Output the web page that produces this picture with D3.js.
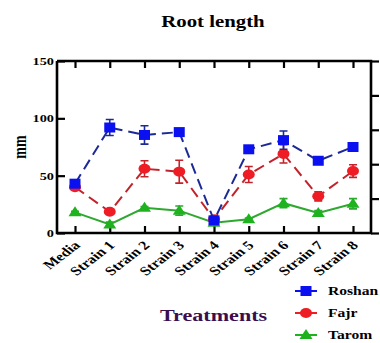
<!DOCTYPE html>
<html><head><meta charset="utf-8">
<script src="https://cdn.jsdelivr.net/npm/d3@7"></script>
<style>html,body{margin:0;padding:0;background:#fff;overflow:hidden}svg{display:block}</style>
</head><body><svg id="c" width="380" height="343"></svg>
<script>
const categories = ["Media","Strain 1","Strain 2","Strain 3","Strain 4","Strain 5","Strain 6","Strain 7","Strain 8"];
const roshan = [43, 92, 85.5, 88, 11, 73, 81, 63, 75];
const roshanErr = [2, 7, 8, 2, 2, 2, 8, 2, 2];
const fajr = [40, 18.5, 56, 53.5, 12, 51, 69, 32, 54];
const fajrErr = [2, 1.5, 7, 10, 2, 7, 8, 4, 5.5];
const tarom = [18, 7.5, 22, 19.5, 9, 12, 26, 17.5, 25.5];
const taromErr = [1, 2, 1, 4, 2, 1, 4, 2, 4.5];
const yTicks = [0, 50, 100, 150];
const seriesNames = ["Roshan", "Fajr", "Tarom"];

(function () {
const svg = d3.select("#c");
const SX = 1.3; // horizontal stretch of the reference
const ser = "'Liberation Serif','Times New Roman',serif";

const x = d3.scalePoint().domain(categories).range([75, 353]);
const y = d3.scaleLinear().domain([0, 150]).range([233, 61]);
const pL = 57, pR = 371, pT = 61, pB = 233;

function txt(g, s, tx, ty, size, opts = {}) {
  const t = g.append("text").text(s)
    .attr("transform", `translate(${tx},${ty}) scale(${SX},1)` + (opts.rot ? ` rotate(${opts.rot})` : ""))
    .attr("font-family", ser).attr("font-weight", "bold").attr("font-size", size)
    .attr("fill", opts.fill || "#000")
    .attr("text-anchor", opts.anchor || "start");
  return t;
}

// title
txt(svg, "Root length", 213, 27, 16, {anchor: "middle"});
// y label
svg.append("text").text("mm")
  .attr("transform", `translate(26,147) scale(${SX},1) rotate(-90)`)
  .attr("font-family", ser).attr("font-weight", "bold").attr("font-size", 14)
  .attr("text-anchor", "middle");

const ax = svg.append("g").attr("stroke", "#000").attr("fill", "none");
ax.append("path").attr("d", `M${pL},${pT}V${pB}H${pR}V${pT}H${pL}`)
  .attr("stroke-width", 2.6).attr("stroke-linejoin", "miter");

const yg = svg.append("g").attr("transform", `translate(${pL},0)`)
  .call(d3.axisLeft(y).tickValues(yTicks).tickSize(-8).tickFormat(""));
yg.select(".domain").remove();
yg.selectAll("line").attr("stroke-width", 2.2);
yTicks.forEach(v => txt(svg, String(v), 54, y(v) + 4, 11, {anchor: "end"}));

const yR = d3.scaleLinear().domain([0, 5]).range([pB, pT]);
const ygR = svg.append("g").attr("transform", `translate(${pR},0)`)
  .call(d3.axisRight(yR).ticks(5).tickSize(8).tickFormat(""));
ygR.select(".domain").remove();
ygR.selectAll("line").attr("stroke-width", 2.2);

const xg = svg.append("g").attr("transform", `translate(0,${pB})`)
  .call(d3.axisBottom(x).tickSize(-7).tickFormat(""));
xg.select(".domain").remove();
xg.selectAll("line").attr("stroke-width", 2.2);
const xgT = svg.append("g").attr("transform", `translate(0,${pT})`)
  .call(d3.axisTop(x).tickSize(-7).tickFormat(""));
xgT.select(".domain").remove();
xgT.selectAll("line").attr("stroke-width", 2.2);

categories.forEach(c => txt(svg, c, x(c) + 6, pB + 13, 12.5, {anchor: "end", rot: -45}));

const specs = [
  {name: "Tarom", vals: tarom, err: taromErr, line: "#2ea82e", fill: "#1fb21f", shape: "tri", dash: null},
  {name: "Fajr", vals: fajr, err: fajrErr, line: "#c4222a", fill: "#ee1c24", shape: "circ", dash: "11,6"},
  {name: "Roshan", vals: roshan, err: roshanErr, line: "#1c2a96", fill: "#0a10f0", shape: "sq", dash: "11,6"}
];

function marker(g, shape, cx, cy, fill) {
  if (shape === "sq") g.append("rect").attr("x", cx - 5.5).attr("y", cy - 5).attr("width", 11).attr("height", 10).attr("fill", fill);
  else if (shape === "circ") g.append("ellipse").attr("cx", cx).attr("cy", cy).attr("rx", 6).attr("ry", 5).attr("fill", fill);
  else g.append("path").attr("d", `M${cx},${cy - 6}L${cx + 6.5},${cy + 4}L${cx - 6.5},${cy + 4}Z`).attr("fill", fill);
}

const line = d3.line().x((d, i) => x(categories[i])).y(d => y(d));
specs.forEach(s => {
  const g = svg.append("g");
  g.append("path").attr("d", line(s.vals)).attr("fill", "none")
    .attr("stroke", s.line).attr("stroke-width", 2).attr("stroke-dasharray", s.dash);
  s.vals.forEach((v, i) => {
    const cx = x(categories[i]);
    const e = s.err[i];
    g.append("path").attr("d", `M${cx},${y(v - e)}V${y(v + e)}M${cx - 4},${y(v + e)}H${cx + 4}M${cx - 4},${y(v - e)}H${cx + 4}`)
      .attr("stroke", s.line).attr("stroke-width", 1.6).attr("fill", "none");
    marker(g, s.shape, cx, y(v), s.fill);
  });
});

const legY = {Roshan: 291, Fajr: 313, Tarom: 335};
const lg = svg.append("g");
specs.slice().reverse().forEach(s => {
  const ly = legY[s.name];
  lg.append("line").attr("x1", 295).attr("x2", 317).attr("y1", ly).attr("y2", ly)
    .attr("stroke", s.fill).attr("stroke-width", 2);
  marker(lg, s.shape, 306, ly, s.fill);
  txt(lg, s.name, 328, ly + 4, 12);
});
txt(svg, "Treatments", 160, 321, 17, {fill: "#3a0d4f"});
})();
</script></body></html>
